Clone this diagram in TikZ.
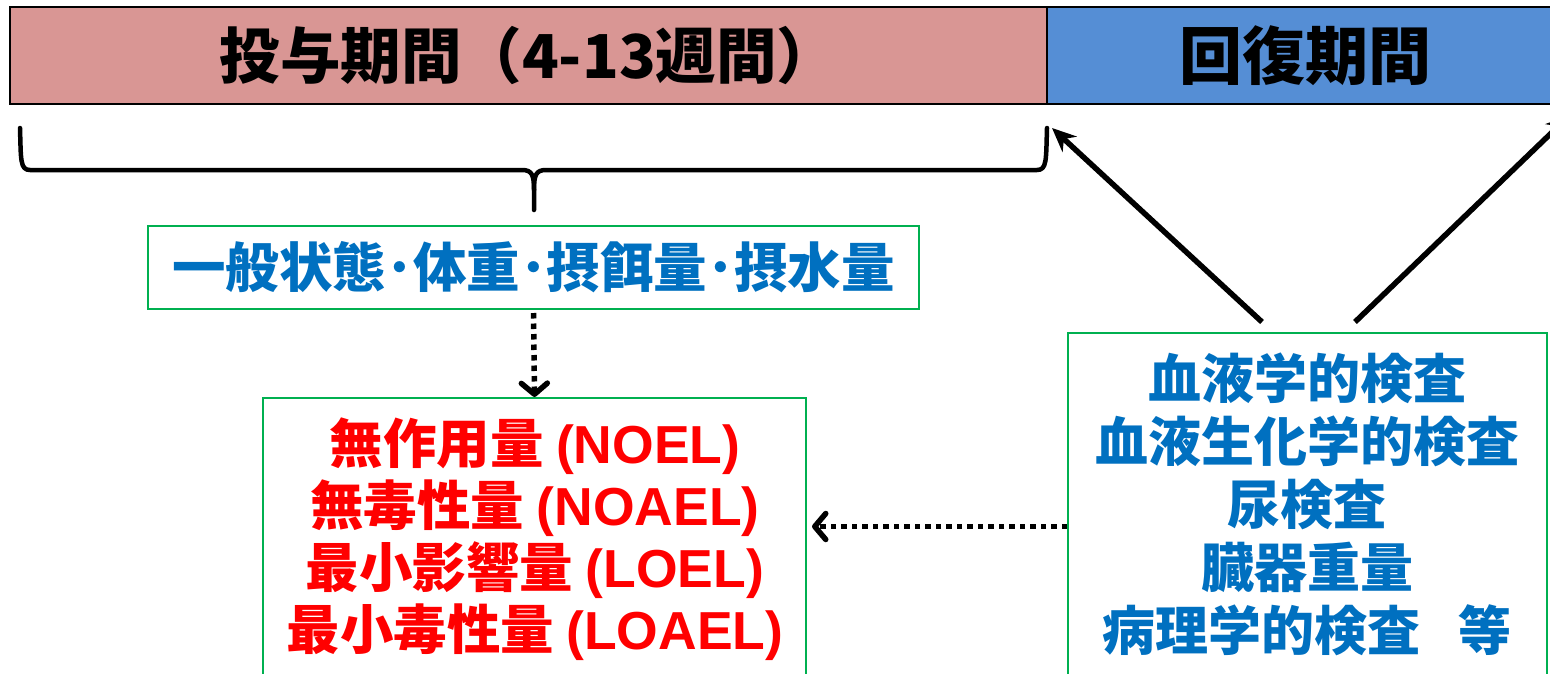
\documentclass[tikz,border=0pt]{standalone}
\usepackage{fontspec}
\setmainfont{Noto Sans CJK JP}
\newfontfamily\lat{Liberation Sans}
\usetikzlibrary{arrows.meta}
\definecolor{pinkbar}{HTML}{D99694}
\definecolor{bluebar}{HTML}{558ED5}
\definecolor{boxgreen}{HTML}{00B050}
\definecolor{txtblue}{HTML}{0070C0}
\definecolor{txtred}{HTML}{FF0000}
\tikzset{
  bar/.style={draw=black, line width=1.5pt, minimum height=97pt, inner sep=0pt},
  gbox/.style={draw=boxgreen, line width=2pt, inner sep=0pt},
  solidarrow/.style={line width=5.5pt, -{Stealth[length=24pt,width=21pt]}},
  dotarrow/.style={line width=5.5pt, dash pattern=on 5.5pt off 5pt,
    -{Straight Barb[length=11pt,width=26pt,round]}},
  bracestyle/.style={line width=4.5pt, line join=round, line cap=round},
}
\begin{document}
\begin{tikzpicture}[x=1pt,y=-1pt]
\useasboundingbox (0,0) rectangle (1550,673);
\clip (0,0) rectangle (1550,673);
\fill[white] (0,0) rectangle (1550,673);
% bars
\node[bar, fill=pinkbar, minimum width=1037pt, font=\fontsize{60.5}{60}\selectfont\bfseries]
  (dose) at (528.5,55.5) {投与期間（4-13週間）};
\node[bar, fill=bluebar, minimum width=516pt, font=\fontsize{63}{63}\selectfont\bfseries]
  (recov) at (1305,55.5) {回復期間};
% brace
\coordinate (tip) at (534,210);
\draw[bracestyle] (20,128) .. controls (21,160) and (20,170) .. (30,170) -- (522,170)
  .. controls (532,170) and (534,175) .. (534,190) -- (tip);
\draw[bracestyle] (1047,128) .. controls (1046,160) and (1047,170) .. (1037,170) -- (546,170)
  .. controls (536,170) and (534,175) .. (534,190);
% boxes
\node[gbox, minimum width=771pt, minimum height=83pt, text=txtblue,
  font=\fontsize{53.5}{53}\selectfont\bfseries] (general) at (533.5,267.5) {一般状態･体重･摂餌量･摂水量};
\node[gbox, minimum width=543pt, minimum height=322pt] (redbox) at (534.5,559) {};
\node[align=center, text=txtred, inner sep=0pt,
  font=\fontsize{53.5}{62}\selectfont\bfseries] (redtext) at (535,539)
  {無作用量 {\lat(NOEL)}\\無毒性量 {\lat(NOAEL)}\\最小影響量 {\lat(LOEL)}\\最小毒性量 {\lat(LOAEL)}};
\node[gbox, minimum width=479pt, minimum height=387pt] (bluebox) at (1307.5,526.5) {};
\node[align=center, text=txtblue, inner sep=0pt,
  font=\fontsize{53}{63}\selectfont\bfseries] (bluetext) at (1307,504)
  {血液学的検査\\血液生化学的検査\\尿検査\\臓器重量\\病理学的検査\hspace{0.7em}等};
% arrows
\draw[dotarrow, shorten <=3pt] (general.south) -- (redbox.north);
\draw[dotarrow, shorten >=5pt] (bluebox.west) -- (redbox.east |- bluebox.west);
\coordinate (a1s) at (1262,322);
\coordinate (a1e) at (1052,128);
\coordinate (a2s) at (1355,322);
\coordinate (a2e) at (1570,115);
\draw[solidarrow] (a1s) -- (a1e);
\draw[solidarrow] (a2s) -- (a2e);
\end{tikzpicture}
\end{document}
